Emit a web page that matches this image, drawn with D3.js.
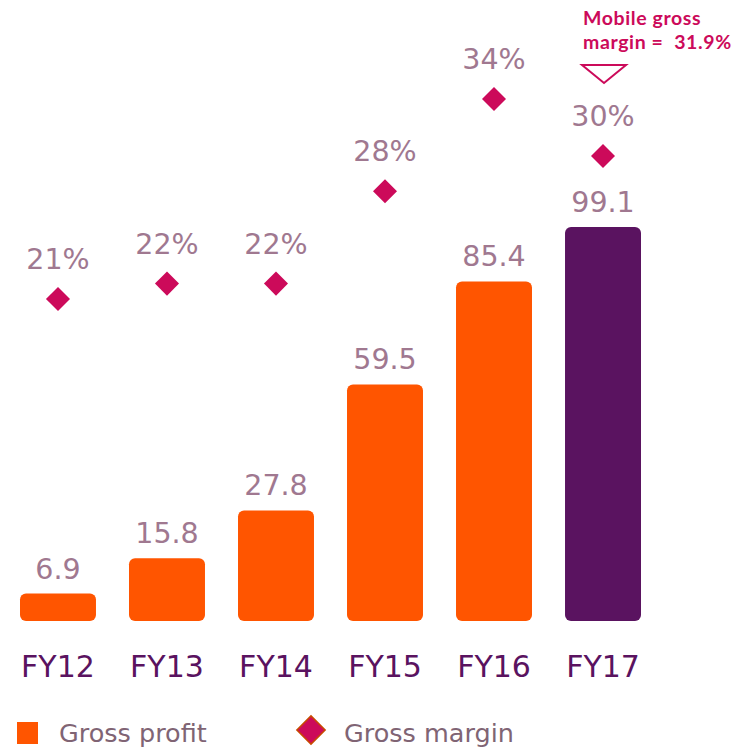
<!doctype html>
<html lang="en">
<head>
  <meta charset="utf-8">
  <title>Gross profit and gross margin</title>
  <style>
    html, body { margin: 0; padding: 0; background: #fff; }
    svg { display: block; font-family: "DejaVu Sans", sans-serif; }
  </style>
</head>
<body>
  <div id="chart"></div>
  <script src="https://d3js.org/d3.v7.min.js"></script>
  <script>
    // Data ----------------------------------------------------------------------
    const years = ["FY12", "FY13", "FY14", "FY15", "FY16", "FY17"];
    const grossProfit = [6.9, 15.8, 27.8, 59.5, 85.4, 99.1];
    const grossMargin = [21, 22, 22, 28, 34, 30.3];
    const marginLabels = ["21%", "22%", "22%", "28%", "34%", "30%"];
    const annotationLines = ["Mobile gross", "margin =  31.9%"];

    // Layout --------------------------------------------------------------------
    const width = 752;
    const height = 749;

    const orange = "#ff5500";
    const purple = "#5a1360";
    const magenta = "#cc0a5a";
    const labelColor = "#a07890";

    const svg = d3.select("#chart")
      .append("svg")
      .attr("width", width)
      .attr("height", height);

    const x = d3.scaleBand()
      .domain(years)
      .range([20, 641])
      .paddingInner(0.303)
      .paddingOuter(0);

    const y = d3.scaleLinear()
      .domain([0, 100])
      .range([621, 223.4]);

    const yMargin = d3.scaleLinear()
      .domain([21, 34])
      .range([299, 99]);

    const data = years.map((d, i) => ({
      year: d,
      profit: grossProfit[i],
      margin: grossMargin[i],
      marginLabel: marginLabels[i]
    }));

    // Bars ----------------------------------------------------------------------
    svg.append("g")
      .selectAll("rect")
      .data(data)
      .join("rect")
      .attr("x", d => x(d.year))
      .attr("y", d => y(d.profit))
      .attr("width", x.bandwidth())
      .attr("height", d => y(0) - y(d.profit))
      .attr("rx", 6)
      .attr("fill", (d, i) => i === data.length - 1 ? purple : orange);

    svg.append("g")
      .selectAll("text")
      .data(data)
      .join("text")
      .attr("x", d => x(d.year) + x.bandwidth() / 2)
      .attr("y", d => y(d.profit) - 15)
      .attr("text-anchor", "middle")
      .attr("font-size", 28.5)
      .attr("fill", labelColor)
      .text(d => d.profit.toFixed(1));

    // Margin diamonds -----------------------------------------------------------
    const diamond = d3.symbol().type(d3.symbolSquare).size(17 * 17);

    svg.append("g")
      .selectAll("path")
      .data(data)
      .join("path")
      .attr("d", diamond)
      .attr("transform", d =>
        `translate(${x(d.year) + x.bandwidth() / 2},${yMargin(d.margin)}) rotate(45)`)
      .attr("fill", magenta);

    svg.append("g")
      .selectAll("text")
      .data(data)
      .join("text")
      .attr("x", d => x(d.year) + x.bandwidth() / 2)
      .attr("y", d => yMargin(d.margin) - 30)
      .attr("text-anchor", "middle")
      .attr("font-size", 28.5)
      .attr("fill", labelColor)
      .text(d => d.marginLabel);

    // Category axis -------------------------------------------------------------
    const xAxis = svg.append("g")
      .attr("transform", "translate(0,621)")
      .call(d3.axisBottom(x).tickSize(0).tickPadding(35));

    xAxis.select(".domain").remove();
    xAxis.selectAll("text")
      .attr("font-family", "'DejaVu Sans', sans-serif")
      .attr("font-size", 30)
      .attr("fill", purple);

    // Annotation ----------------------------------------------------------------
    const last = data[data.length - 1];
    const lastX = x(last.year) + x.bandwidth() / 2;

    svg.append("g")
      .selectAll("text")
      .data(annotationLines)
      .join("text")
      .attr("x", 583)
      .attr("y", (d, i) => 25 + i * 24)
      .attr("font-family", "Lato, sans-serif")
      .attr("font-size", 19.5)
      .attr("font-weight", "bold")
      .attr("letter-spacing", 0.6)
      .attr("fill", magenta)
      .style("white-space", "pre")
      .text(d => d);

    svg.append("path")
      .attr("d", d3.line()([
        [lastX - 21, 65],
        [lastX + 23, 65],
        [lastX + 1, 83]
      ]) + "Z")
      .attr("fill", "#fff")
      .attr("stroke", magenta)
      .attr("stroke-width", 2);

    // Legend --------------------------------------------------------------------
    const legend = svg.append("g");

    legend.append("rect")
      .attr("x", 17)
      .attr("y", 722)
      .attr("width", 21)
      .attr("height", 22)
      .attr("fill", orange);

    legend.append("text")
      .attr("x", 59)
      .attr("y", 742)
      .attr("font-size", 25.5)
      .attr("fill", "#806474")
      .text("Gross profit");

    legend.append("path")
      .attr("d", d3.symbol().type(d3.symbolSquare).size(20 * 20))
      .attr("transform", "translate(311,730) rotate(45)")
      .attr("fill", magenta)
      .attr("stroke", "#c84a00")
      .attr("stroke-width", 1.5);

    legend.append("text")
      .attr("x", 344)
      .attr("y", 742)
      .attr("font-size", 25.5)
      .attr("fill", "#806474")
      .text("Gross margin");
  </script>
</body>
</html>
